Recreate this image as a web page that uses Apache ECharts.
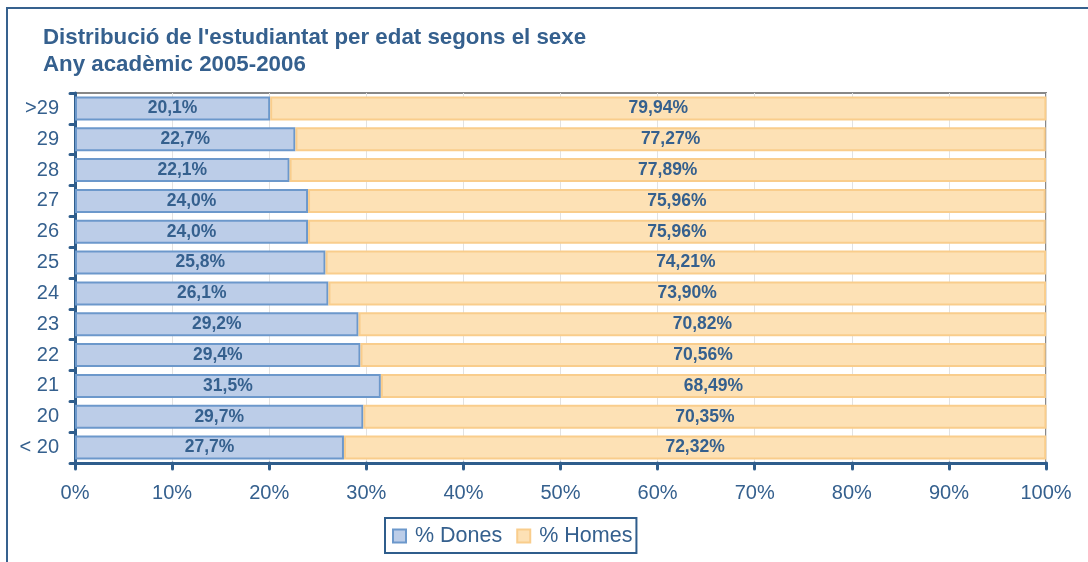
<!DOCTYPE html>
<html><head><meta charset="utf-8">
<script src="https://cdn.jsdelivr.net/npm/echarts@6/dist/echarts.min.js"></script>
<style>html,body{margin:0;padding:0;background:#fff}#c{width:1088px;height:562px}</style>
</head><body><div id="c"></div>
<script>
const categories = ['< 20','20','21','22','23','24','25','26','27','28','29','>29'];
const dones = [27.7, 29.7, 31.5, 29.4, 29.2, 26.1, 25.8, 24.0, 24.0, 22.1, 22.7, 20.1];
const homes = [72.32, 70.35, 68.49, 70.56, 70.82, 73.90, 74.21, 75.96, 75.96, 77.89, 77.27, 79.94];
const titleLines = ["Distribució de l'estudiantat per edat segons el sexe", "Any acadèmic 2005-2006"];
const seriesNames = ['% Dones', '% Homes'];

const txt = '#35608E';
const axisCol = '#2F5D8C';
const font = 'Liberation Sans, Arial, sans-serif';
const chart = echarts.init(document.getElementById('c'));
const fmt = d => v => v.toFixed(d).replace('.', ',') + '%';
chart.setOption({
  animation: false,
  textStyle: {fontFamily: font},
  title: {
    text: titleLines.join('\n'), left: 38, top: 19,
    textStyle: {fontFamily: font, fontSize: 22.3, fontWeight: 'bold', color: txt, lineHeight: 27}
  },
  graphic: [{type: 'rect', shape: {x: 7, y: 8, width: 1100, height: 600}, style: {fill: 'none', stroke: '#36618E', lineWidth: 2}}],
  legend: {
    bottom: 9, left: 385, itemGap: 14, itemWidth: 13, itemHeight: 13, icon: 'rect',
    borderColor: axisCol, borderWidth: 2, padding: [7, 4, 6, 7],
    textStyle: {fontSize: 21.5, color: txt, fontFamily: font, padding: [0, 0, 0, 4]},
    data: seriesNames
  },
  grid: {left: 75, right: 42, top: 93, bottom: 99, show: true, borderColor: '#888', borderWidth: 2},
  xAxis: {
    type: 'value', min: 0, max: 100, interval: 10,
    axisLine: {show: true, lineStyle: {color: axisCol, width: 3}},
    axisTick: {show: true, length: 6, lineStyle: {color: axisCol, width: 3, cap: 'round'}},
    axisLabel: {formatter: v => v + '%', color: txt, fontSize: 20, margin: 20, fontFamily: font},
    splitLine: {show: true, lineStyle: {color: '#E2E2E2', width: 1}}
  },
  yAxis: {
    type: 'category', data: categories,
    axisLine: {show: true, lineStyle: {color: axisCol, width: 3}},
    axisTick: {show: true, length: 5, lineStyle: {color: axisCol, width: 3, cap: 'round'}},
    axisLabel: {color: txt, fontSize: 20, margin: 16, fontFamily: font}
  },
  series: [
    {name: seriesNames[0], type: 'bar', stack: 's', data: dones, barCategoryGap: '22%',
     itemStyle: {color: '#BCCDE8', borderColor: '#6C98CB', borderWidth: 2},
     label: {show: true, position: 'inside', formatter: p => fmt(1)(p.value), color: txt, fontWeight: 'bold', fontSize: 17.5, fontFamily: font}},
    {name: seriesNames[1], type: 'bar', stack: 's', data: homes,
     itemStyle: {color: '#FDE1B5', borderColor: '#F9CD8C', borderWidth: 2},
     label: {show: true, position: 'inside', formatter: p => fmt(2)(p.value), color: txt, fontWeight: 'bold', fontSize: 17.5, fontFamily: font}}
  ]
});
</script></body></html>
